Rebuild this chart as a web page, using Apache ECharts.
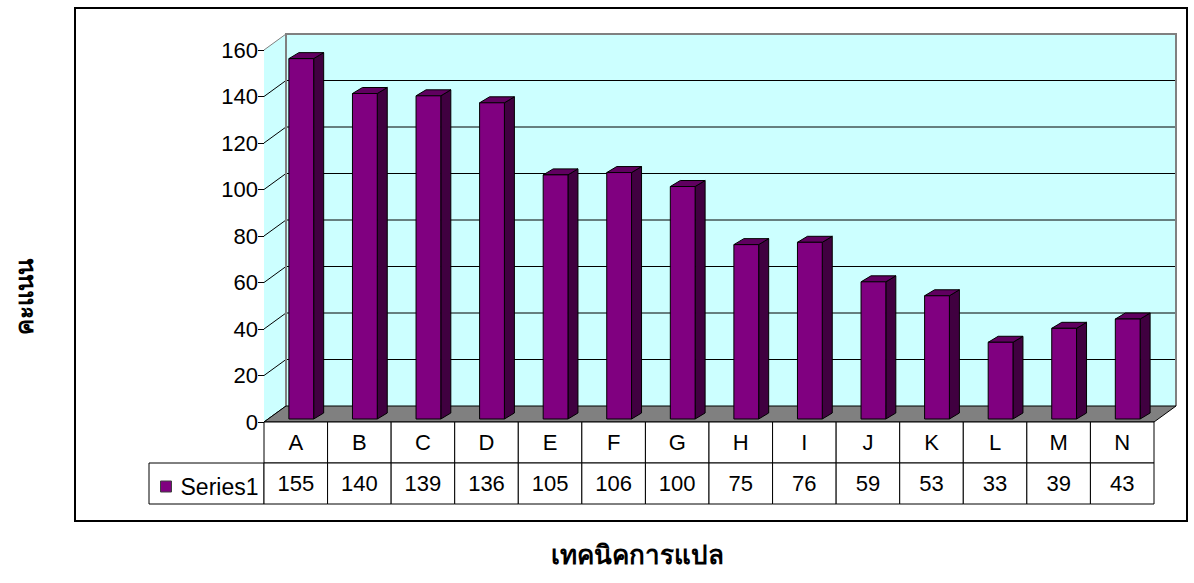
<!DOCTYPE html>
<html>
<head>
<meta charset="utf-8">
<title>คะแนน</title>
<script src="https://cdn.jsdelivr.net/npm/echarts/dist/echarts.min.js"></script>
<style>
  html, body { margin: 0; padding: 0; background: #fff; }
  #main { width: 1194px; height: 583px; }
</style>
</head>
<body>
<div id="main"></div>
<script>
// 数据
const categories = ['A', 'B', 'C', 'D', 'E', 'F', 'G', 'H', 'I', 'J', 'K', 'L', 'M', 'N'];
const values = [155, 140, 139, 136, 105, 106, 100, 75, 76, 59, 53, 33, 39, 43];
const yMax = 160;
const yStep = 20;
const seriesName = 'Series1';
const xTitle = 'เทคนิคการแปล';
const yTitle = 'คะแนน';

// 版式
const GRID = { left: 264, top: 50, width: 890, height: 372 };
const DEPTH = [22, -16];      // 后墙偏移
const BAR_FRONT = [5.5, -3];  // 柱子正面偏移
const BAR_DEPTH = [10, -6];   // 柱子厚度
const ROW_H = 41;             // 表格行高
const FONT = '"Liberation Sans", Arial, sans-serif';
const FS = 22;

(function () {
	let myChart = echarts.init(document.getElementById('main'), null, { renderer: 'svg' });

	// 墙和地面
	function renderWalls(params, api) {
		const cs = params.coordSys;
		const x0 = cs.x, x1 = cs.x + cs.width, yt = cs.y, yb = cs.y + cs.height;
		const dx = DEPTH[0], dy = DEPTH[1];
		const children = [];
		children.push({
			type: 'rect',
			shape: { x: x0 + dx, y: yt + dy, width: cs.width, height: cs.height },
			style: { fill: '#ccffff', stroke: null }
		});
		children.push({
			type: 'polygon',
			shape: { points: [[x0, yt], [x0 + dx, yt + dy], [x0 + dx, yb + dy], [x0, yb]] },
			style: { fill: '#ccffff', stroke: null }
		});
		for (let v = 0; v <= yMax; v += yStep) {
			const y = api.coord([0, v])[1];
			const c = v === yMax ? '#808080' : '#000';
			children.push({
				type: 'line',
				shape: { x1: x0, y1: y, x2: x0 + dx, y2: y + dy },
				style: { stroke: c, lineWidth: 1 }
			});
			if (v > 0 && v < yMax) {
				children.push({
					type: 'line',
					shape: { x1: x0 + dx, y1: y + dy, x2: x1 + dx, y2: y + dy },
					style: { stroke: '#000', lineWidth: 1 }
				});
			}
		}
		// 后墙边框
		children.push({
			type: 'polyline',
			shape: { points: [[x0 + dx, yb + dy], [x0 + dx, yt + dy], [x1 + dx, yt + dy], [x1 + dx, yb + dy]] },
			style: { fill: null, stroke: '#808080', lineWidth: 2 }
		});
		// 地面
		children.push({
			type: 'polygon',
			shape: { points: [[x0, yb], [x1, yb], [x1 + dx, yb + dy], [x0 + dx, yb + dy]] },
			style: { fill: '#808080', stroke: '#000', lineWidth: 1 }
		});
		return { type: 'group', children: children };
	}

	// 3D柱子 + 数据表
	function renderBar(params, api) {
		const i = api.value(0);
		const v = api.value(1);
		const top = api.coord([i, v]);
		const base = api.coord([i, 0]);
		const band = api.size([1, 0])[0];
		const w = band * 0.39;
		const l = top[0] - w / 2 + BAR_FRONT[0];
		const r = l + w;
		const t = top[1] + BAR_FRONT[1];
		const b = base[1] + BAR_FRONT[1];
		const ddx = BAR_DEPTH[0], ddy = BAR_DEPTH[1];
		const edge = { stroke: '#000', lineWidth: 1 };
		const cl = top[0] - band / 2;
		return {
			type: 'group',
			children: [
				{ type: 'polygon', shape: { points: [[r, t], [r + ddx, t + ddy], [r + ddx, b + ddy], [r, b]] }, style: Object.assign({ fill: '#400040' }, edge) },
				{ type: 'polygon', shape: { points: [[l, t], [r, t], [r + ddx, t + ddy], [l + ddx, t + ddy]] }, style: Object.assign({ fill: '#600060' }, edge) },
				{ type: 'rect', shape: { x: l, y: t, width: w, height: b - t }, style: Object.assign({ fill: '#800080' }, edge) },
				{ type: 'rect', shape: { x: cl, y: base[1], width: band, height: ROW_H }, style: { fill: '#fff', stroke: '#000', lineWidth: 1 } },
				{ type: 'rect', shape: { x: cl, y: base[1] + ROW_H, width: band, height: ROW_H }, style: { fill: '#fff', stroke: '#000', lineWidth: 1 } },
				{ type: 'text', style: { text: categories[i], x: top[0], y: base[1] + ROW_H / 2, align: 'center', verticalAlign: 'middle', fontSize: FS, fontFamily: FONT, fill: '#000' } },
				{ type: 'text', style: { text: String(v), x: top[0], y: base[1] + ROW_H * 1.5, align: 'center', verticalAlign: 'middle', fontSize: FS, fontFamily: FONT, fill: '#000' } }
			]
		};
	}

	const option = {
		animation: false,
		grid: {
			left: GRID.left,
			top: GRID.top,
			width: GRID.width,
			height: GRID.height
		},
		legend: {
			data: [seriesName],
			left: GRID.left - 109,
			top: GRID.top + GRID.height + ROW_H + 7,
			icon: 'rect',
			itemWidth: 11,
			itemHeight: 11,
			itemStyle: { borderColor: '#404040', borderWidth: 1 },
			textStyle: { color: '#000', fontSize: FS + 1, fontFamily: FONT, padding: [0, 0, 0, 4] }
		},
		xAxis: {
			type: 'category',
			data: categories,
			axisLine: { show: false },
			axisTick: { show: false },
			axisLabel: { show: false }
		},
		yAxis: {
			type: 'value',
			min: 0,
			max: yMax,
			interval: yStep,
			axisLine: { show: true, lineStyle: { color: '#808080', width: 1 } },
			axisTick: { show: true, length: 6, lineStyle: { color: '#000' } },
			axisLabel: { color: '#000', fontSize: FS, fontFamily: FONT, margin: 6 },
			splitLine: { show: false }
		},
		graphic: [
			{
				type: 'rect',
				shape: { x: 75, y: 8, width: 1112, height: 513 },
				style: { fill: null, stroke: '#000', lineWidth: 2 },
				z: -10
			},
			{
				type: 'rect',
				shape: { x: GRID.left - 115, y: GRID.top + GRID.height + ROW_H, width: 115, height: ROW_H },
				style: { fill: null, stroke: '#000', lineWidth: 1 }
			},
			{
				type: 'text',
				x: 637,
				y: 555,
				style: { text: xTitle, align: 'center', verticalAlign: 'middle', fontSize: 26, fontWeight: 'bold', fontFamily: '"Times New Roman", "Liberation Serif", serif', fill: '#000' }
			},
			{
				type: 'text',
				x: 25,
				y: 297,
				rotation: Math.PI / 2,
				style: { text: yTitle, align: 'center', verticalAlign: 'middle', fontSize: 24, fontWeight: 'bold', fontFamily: '"Times New Roman", "Liberation Serif", serif', fill: '#000' }
			}
		],
		series: [
			{
				name: 'walls',
				type: 'custom',
				renderItem: renderWalls,
				data: [[0, 0]],
				silent: true,
				z: 1
			},
			{
				name: seriesName,
				type: 'custom',
				renderItem: renderBar,
				itemStyle: { color: '#800080' },
				data: values.map(function (v, i) { return [i, v]; }),
				z: 5
			}
		]
	};
	myChart.setOption(option);
	window.addEventListener('resize', function () {
		myChart.resize();
	});
})();
</script>
</body>
</html>
